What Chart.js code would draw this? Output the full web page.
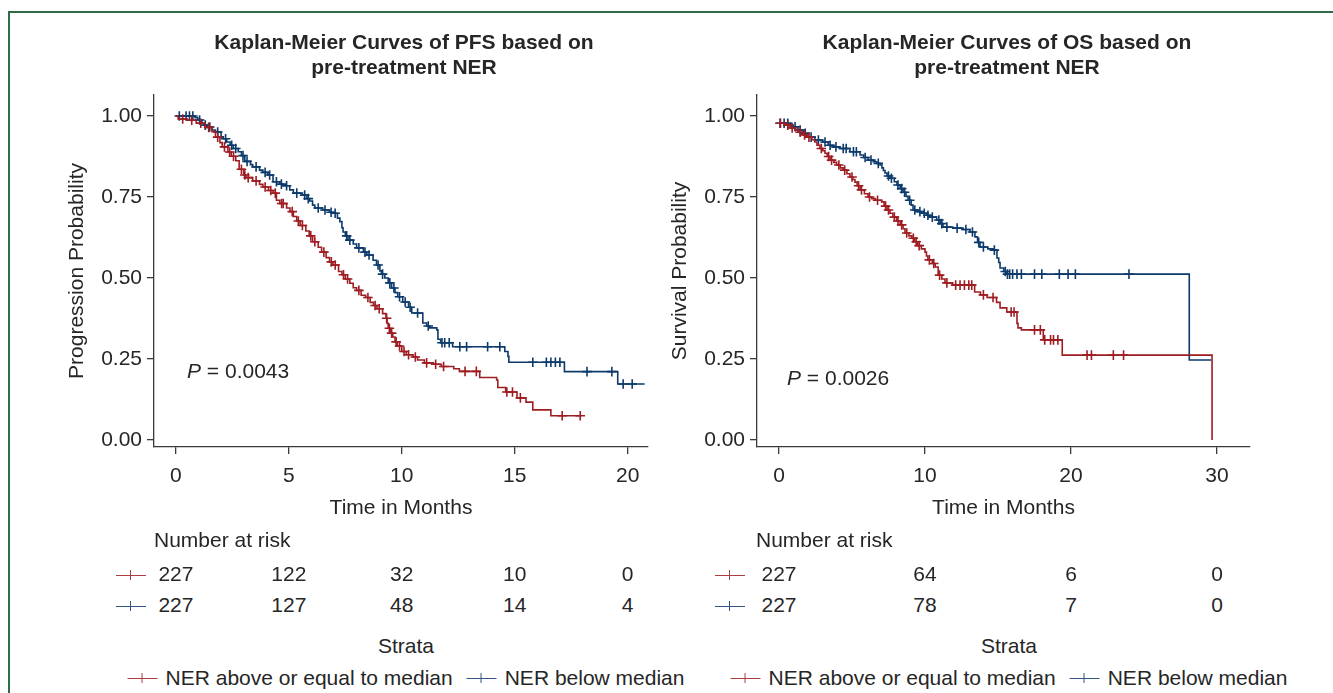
<!DOCTYPE html>
<html>
<head>
<meta charset="utf-8">
<script src="https://cdn.jsdelivr.net/npm/chart.js@4.4.1/dist/chart.umd.min.js"></script>
<style>
html,body{margin:0;padding:0;background:#fff;}
body{width:1333px;height:693px;position:relative;overflow:hidden;font-family:"Liberation Sans",Arial,sans-serif;color:#262626;}
.frame{position:absolute;left:8px;top:11px;width:1400px;height:800px;border-left:2px solid #2f6b47;border-top:2px solid #2f6b47;}
canvas{position:absolute;top:0;}
.t{position:absolute;font-size:21px;line-height:24px;white-space:nowrap;}
.c{transform:translateX(-50%);text-align:center;}
.b{font-weight:bold;}
.sym{position:relative;display:inline-block;width:30px;height:0;border-top:1.6px solid currentColor;vertical-align:middle;opacity:.85;}
.sym::after{content:'';position:absolute;left:14px;top:-5.8px;height:10px;border-left:1.6px solid currentColor;}
.leg{position:absolute;top:666px;transform:translateX(-50%);display:flex;align-items:center;font-size:21px;line-height:24px;white-space:nowrap;}
.leg .sym{margin-right:8px;}
.leg .gap{width:14px;}
</style>
</head>
<body>
<div class="frame"></div>
<canvas id="pfs" width="666" height="530" style="left:0"></canvas>
<canvas id="os" width="667" height="530" style="left:666px"></canvas>
<div id="txt"></div>
<script>
// strata
const strata = ['NER above or equal to median', 'NER below median'];
const colHigh = '#9e1d22', colLow = '#0c3a6b';

// y ticks shared by both panels
const yTicks = [0, 0.25, 0.5, 0.75, 1];
const pfsXTicks = [0, 5, 10, 15, 20];
const osXTicks = [0, 10, 20, 30];

// number at risk
const pfsRiskHigh = [227, 122, 32, 10, 0];
const pfsRiskLow  = [227, 127, 48, 14, 4];
const osRiskHigh  = [227, 64, 6, 0];
const osRiskLow   = [227, 78, 7, 0];

// KM steps: [time, survival, censored]
const pfsHigh = [[0,1,0],[0.1,0.991,0],[0.3,0.991,1],[0.5,0.987,0],[0.7,0.987,1],[0.9,0.978,0],[1.1,0.978,1],[1.3,0.965,0],[1.45,0.965,1],
  [1.6,0.952,0],[1.75,0.935,0],[1.85,0.935,1],[1.95,0.918,0],[2.05,0.905,0],[2.15,0.905,1],[2.3,0.889,0],[2.38,0.889,1],[2.45,0.876,0],[2.55,0.876,1],
  [2.65,0.862,0],[2.8,0.836,0],[2.9,0.836,1],[3.0,0.818,0],[3.05,0.818,1],[3.1,0.81,0],[3.2,0.81,1],[3.4,0.8,0],[3.55,0.8,1],[3.7,0.789,0],[3.85,0.781,0],
  [3.95,0.781,1],[4.1,0.77,0],[4.2,0.77,1],[4.3,0.762,0],[4.4,0.762,1],[4.45,0.74,0],[4.6,0.73,0],[4.68,0.73,1],[4.75,0.73,1],[4.9,0.716,0],[5.05,0.705,0],[5.15,0.705,1],
  [5.2,0.69,0],[5.35,0.676,0],[5.42,0.676,1],[5.5,0.662,0],[5.6,0.662,1],[5.75,0.645,0],[5.9,0.63,0],[5.97,0.63,1],[6.05,0.612,0],[6.15,0.612,1],[6.3,0.595,0],[6.45,0.58,0],
  [6.55,0.58,1],[6.65,0.563,0],[6.8,0.55,0],[6.88,0.55,1],[6.95,0.54,0],[7.05,0.54,1],[7.2,0.52,0],[7.35,0.51,0],[7.42,0.51,1],[7.5,0.497,0],[7.6,0.497,1],[7.7,0.484,0],
  [7.85,0.47,0],[8.0,0.462,0],[8.1,0.462,1],[8.2,0.447,0],[8.4,0.44,0],[8.5,0.44,1],[8.6,0.425,0],[8.75,0.415,0],[8.82,0.415,1],[8.9,0.405,0],[9.0,0.405,1],
  [9.15,0.39,0],[9.3,0.376,0],[9.33,0.376,1],[9.35,0.36,0],[9.4,0.345,0],[9.45,0.345,1],[9.5,0.33,0],[9.55,0.33,1],[9.6,0.318,0],[9.7,0.303,0],[9.75,0.303,1],[9.8,0.29,0],[9.9,0.29,1],
  [10.0,0.273,0],[10.1,0.273,1],[10.2,0.263,0],[10.3,0.263,1],[10.5,0.256,0],[10.6,0.256,1],[10.7,0.247,0],[11.0,0.238,0],[11.1,0.238,1],[11.4,0.234,0],
  [11.5,0.234,1],[11.75,0.227,0],[11.85,0.227,1],[12.3,0.22,0],[12.55,0.212,0],[12.8,0.212,1],[13.3,0.212,1],[13.45,0.193,0],[14.2,0.185,0],
  [14.25,0.162,0],[14.6,0.148,0],[14.65,0.148,1],[14.9,0.148,1],[15.1,0.13,0],[15.25,0.13,1],[15.5,0.117,0],[15.8,0.093,0],[16.6,0.075,0],
  [17.1,0.075,1],[17.9,0.075,1]];

const pfsLow = [[0,1,0],[0.15,1,1],[0.45,1,1],[0.6,1,1],[0.75,1,1],[0.85,0.995,0],[0.97,0.988,0],[1.05,0.988,1],[1.15,0.978,0],[1.25,0.972,0],[1.3,0.972,1],
  [1.37,0.966,0],[1.5,0.966,1],[1.6,0.957,0],[1.75,0.951,0],[1.85,0.951,1],[2.0,0.936,0],[2.1,0.93,0],[2.2,0.93,1],[2.25,0.92,0],[2.4,0.91,0],[2.47,0.91,1],
  [2.54,0.9,0],[2.65,0.9,1],[2.76,0.89,0],[2.9,0.878,0],[2.97,0.878,1],[3.05,0.86,0],[3.15,0.86,1],[3.3,0.85,0],[3.4,0.843,0],[3.55,0.843,1],[3.7,0.833,0],
  [3.85,0.826,0],[3.95,0.826,1],[4.07,0.818,0],[4.15,0.818,1],[4.3,0.797,0],[4.45,0.797,1],[4.6,0.79,0],[4.67,0.79,1],[4.75,0.785,0],[4.9,0.785,1],[5.04,0.772,0],
  [5.2,0.762,0],[5.35,0.762,1],[5.6,0.756,0],[5.7,0.756,1],[5.8,0.745,0],[5.86,0.745,1],[5.92,0.738,0],[6.05,0.725,0],[6.15,0.716,0],[6.3,0.716,1],
  [6.5,0.71,0],[6.6,0.71,1],[6.8,0.703,0],[6.87,0.703,1],[6.95,0.7,0],[7.05,0.7,1],[7.15,0.685,0],[7.26,0.674,0],[7.35,0.655,0],[7.4,0.642,0],[7.5,0.63,0],[7.56,0.63,1],
  [7.62,0.617,0],[7.7,0.617,1],[7.85,0.605,0],[8.0,0.593,0],[8.1,0.593,1],[8.3,0.58,0],[8.37,0.58,1],[8.45,0.571,0],[8.55,0.571,1],[8.73,0.555,0],
  [8.88,0.54,0],[8.95,0.54,1],[9.03,0.522,0],[9.1,0.512,0],[9.15,0.512,1],[9.25,0.5,0],[9.4,0.485,0],[9.47,0.485,1],[9.55,0.469,0],[9.65,0.469,1],[9.7,0.455,0],
  [9.82,0.442,0],[9.9,0.442,1],[10.04,0.426,0],[10.15,0.426,1],[10.3,0.41,0],[10.37,0.41,1],[10.44,0.392,0],[10.7,0.392,1],[10.93,0.361,0],[11.1,0.352,0],[11.17,0.352,1],
  [11.24,0.346,0],[11.55,0.34,0],[11.6,0.311,0],[11.72,0.3,0],[11.78,0.3,1],[11.9,0.3,1],[12.1,0.3,1],[12.25,0.288,0],[12.57,0.288,1],
  [12.87,0.288,1],[13.8,0.288,1],[14.34,0.288,1],[14.56,0.273,0],[14.7,0.258,0],[14.74,0.24,0],[15.8,0.24,1],[16.4,0.24,1],[16.6,0.24,1],
  [16.8,0.24,1],[17.0,0.24,1],[17.2,0.211,0],[18.2,0.211,1],[19.3,0.211,1],[19.56,0.173,0],[19.8,0.173,1],[20.2,0.173,1],[20.75,0.173,0]];

const osHigh = [[0,0.978,0],[0.1,0.978,1],[0.4,0.972,0],[0.6,0.972,1],[0.75,0.963,0],[0.9,0.963,1],[1.1,0.957,0],[1.3,0.95,0],[1.45,0.95,1],
  [1.65,0.942,0],[1.75,0.942,1],[1.9,0.935,0],[2.05,0.935,1],[2.25,0.927,0],[2.46,0.92,0],[2.6,0.91,0],[2.8,0.9,0],[2.9,0.9,1],[3.0,0.893,0],[3.15,0.885,0],
  [3.3,0.875,0],[3.4,0.875,1],[3.5,0.864,0],[3.6,0.864,1],[3.75,0.857,0],[3.95,0.849,0],[4.1,0.849,1],[4.2,0.84,0],[4.4,0.833,0],[4.5,0.833,1],
  [4.65,0.822,0],[4.86,0.812,0],[5.0,0.812,1],[5.05,0.804,0],[5.2,0.796,0],[5.35,0.785,0],[5.45,0.785,1],[5.55,0.772,0],[5.65,0.772,1],[5.85,0.76,0],
  [6.1,0.75,0],[6.2,0.75,1],[6.35,0.745,0],[6.6,0.74,0],[6.75,0.74,1],[7.03,0.735,0],[7.2,0.722,0],[7.3,0.722,1],[7.4,0.71,0],[7.5,0.71,1],[7.6,0.7,0],
  [7.8,0.688,0],[7.9,0.688,1],[8.05,0.676,0],[8.15,0.676,1],[8.3,0.664,0],[8.4,0.664,1],[8.5,0.652,0],[8.63,0.639,0],[8.75,0.639,1],[8.9,0.63,0],
  [9.1,0.623,0],[9.2,0.623,1],[9.3,0.612,0],[9.4,0.612,1],[9.5,0.6,0],[9.6,0.6,1],[9.75,0.59,0],[10.0,0.58,0],[10.1,0.568,0],[10.2,0.556,0],[10.3,0.556,1],
  [10.5,0.545,0],[10.6,0.545,1],[10.7,0.534,0],[10.9,0.509,0],[11.0,0.509,1],[11.15,0.497,0],[11.37,0.485,0],[11.5,0.485,1],[11.9,0.478,0],[12.1,0.478,1],
  [12.4,0.478,1],[12.7,0.478,1],[13.0,0.478,1],[13.2,0.478,1],[13.4,0.457,0],[13.8,0.448,0],[14.0,0.448,1],[14.25,0.44,0],[14.66,0.44,1],
  [14.9,0.425,0],[15.14,0.408,0],[15.6,0.395,0],[15.9,0.395,1],[16.1,0.395,1],[16.3,0.36,0],[16.37,0.346,0],[16.6,0.34,0],[17.5,0.34,1],
  [17.9,0.34,1],[18.1,0.309,0],[18.2,0.309,1],[18.6,0.309,1],[18.8,0.309,1],[19.1,0.309,1],[19.4,0.262,0],[21.1,0.262,1],[21.4,0.262,1],
  [22.9,0.262,1],[23.6,0.262,1],[29.66,0.262,0],[29.66,0,0]];

const osLow = [[0,0.978,0],[0.07,0.978,1],[0.35,0.978,1],[0.6,0.978,1],[0.8,0.972,0],[0.97,0.967,0],[1.1,0.967,1],[1.3,0.957,0],[1.45,0.957,1],
  [1.65,0.947,0],[1.8,0.947,1],[2.0,0.935,0],[2.2,0.935,1],[2.46,0.926,0],[2.7,0.926,1],[3.0,0.92,0],[3.15,0.92,1],[3.37,0.91,0],[3.5,0.91,1],
  [3.7,0.905,0],[3.9,0.905,1],[4.18,0.9,0],[4.4,0.9,1],[4.6,0.9,1],[4.86,0.89,0],[5.1,0.89,1],[5.3,0.89,1],[5.55,0.88,0],[5.8,0.872,0],
  [5.9,0.872,1],[6.1,0.864,0],[6.3,0.864,1],[6.45,0.859,0],[6.7,0.854,0],[6.8,0.854,1],[6.92,0.849,0],[7.05,0.84,0],[7.15,0.832,0],
  [7.26,0.824,0],[7.4,0.815,0],[7.5,0.815,1],[7.6,0.808,0],[7.7,0.808,1],[7.9,0.797,0],[8.08,0.787,0],[8.15,0.787,1],[8.3,0.776,0],[8.4,0.776,1],[8.5,0.765,0],
  [8.6,0.765,1],[8.7,0.752,0],[8.84,0.74,0],[8.95,0.74,1],[9.05,0.725,0],[9.18,0.71,0],[9.3,0.71,1],[9.5,0.705,0],[9.65,0.705,1],[9.79,0.7,0],[9.95,0.7,1],
  [10.1,0.694,0],[10.2,0.694,1],[10.34,0.688,0],[10.5,0.688,1],[10.8,0.679,0],[10.95,0.679,1],[11.05,0.668,0],[11.15,0.668,1],[11.23,0.657,0],[11.5,0.657,1],[11.9,0.654,0],
  [12.2,0.654,1],[12.6,0.65,0],[12.8,0.65,1],[13.08,0.642,0],[13.25,0.642,1],[13.42,0.627,0],[13.6,0.61,0],[13.68,0.61,1],[13.77,0.596,0],[14.0,0.596,1],
  [14.3,0.59,0],[14.66,0.586,0],[14.75,0.586,1],[14.93,0.562,0],[15.05,0.548,0],[15.14,0.531,0],[15.4,0.52,0],[15.5,0.52,1],[15.6,0.512,0],[15.65,0.512,1],
  [15.8,0.512,1],[16.0,0.512,1],[16.3,0.512,1],[16.6,0.512,1],[17.5,0.512,1],[18.0,0.512,1],[19.2,0.512,1],[19.8,0.512,1],[20.3,0.512,1],
  [23.97,0.512,1],[28.1,0.247,0],[29.6,0.247,0]];

const FONT = '"Liberation Sans", Arial, sans-serif';
const TXT = '#262626', AXIS = '#3a3a3a';
Chart.defaults.font.family = FONT;

function kmChart(id, o) {
  const sets = [[o.high, colHigh], [o.low, colLow]].map(([pts, col]) => ({
    data: pts.map(p => ({x: p[0], y: p[1], c: p[2]})),
    borderColor: col, borderWidth: 1.6, stepped: true, fill: false,
    pointStyle: 'cross', pointRadius: ctx => (ctx.raw && ctx.raw.c ? 4.8 : 0),
    pointBorderColor: col, pointBorderWidth: 1.6, pointHoverRadius: 0, pointHitRadius: 0
  }));
  return new Chart(document.getElementById(id), {
    type: 'line',
    data: { datasets: sets },
    options: {
      responsive: false, animation: false, devicePixelRatio: 1,
      layout: { padding: { left: 0, right: o.padRight, top: 95, bottom: 0 } },
      plugins: { legend: { display: false }, tooltip: { enabled: false } },
      scales: {
        x: {
          type: 'linear', min: o.xMin, max: o.xMax,
          afterBuildTicks: s => { s.ticks = o.xTicks.map(v => ({ value: v })); },
          afterFit: s => { s.height = 83; },
          border: { display: true, color: AXIS, width: 1.3 },
          grid: { drawOnChartArea: false, drawTicks: true, tickLength: 7, color: AXIS, lineWidth: 1.3 },
          ticks: { color: TXT, font: { size: 21 }, padding: 10, maxRotation: 0 },
          title: { display: true, text: 'Time in Months', color: TXT, font: { size: 21 }, padding: { top: 0, bottom: 9 } }
        },
        y: {
          min: -0.0216, max: 1.065,
          afterBuildTicks: s => { s.ticks = yTicks.map(v => ({ value: v })); },
          afterFit: s => { s.width = o.yWidth; },
          border: { display: true, color: AXIS, width: 1.3 },
          grid: { drawOnChartArea: false, drawTicks: true, tickLength: 7, color: AXIS, lineWidth: 1.3 },
          ticks: { color: TXT, font: { size: 21 }, padding: 5, callback: v => v.toFixed(2) },
          title: { display: true, text: o.yTitle, color: TXT, font: { size: 21 }, padding: { top: o.yTitlePad, bottom: 0 } }
        }
      }
    }
  });
}

const pfsChart = kmChart('pfs', { high: pfsHigh, low: pfsLow, xMin: -0.97, xMax: 20.9, xTicks: pfsXTicks,
  padRight: 18, yWidth: 154, yTitle: 'Progression Probability', yTitlePad: 64.4 });
const osChart = kmChart('os', { high: osHigh, low: osLow, xMin: -1.507, xMax: 32.26, xTicks: osXTicks,
  padRight: 83, yWidth: 91, yTitle: 'Survival Probability', yTitlePad: 2 });

// text around the plots
const box = document.getElementById('txt');
function put(html, x, yc, cls) {
  const d = document.createElement('div');
  d.className = 't ' + (cls || '');
  d.innerHTML = html;
  d.style.left = x + 'px';
  d.style.top = (yc - 12) + 'px';
  box.appendChild(d);
  return d;
}
function panel(chart, offX, t1, t2, titleX, pTxt, pX, pY, ticks, riskH, riskL, nrX, symX, legX) {
  put(t1, titleX, 42, 'c b');
  put(t2, titleX, 67, 'c b');
  put('<i>P</i> = ' + pTxt, pX, pY);
  put('Number at risk', nrX, 540);
  [[riskH, colHigh, 574], [riskL, colLow, 605]].forEach(([vals, col, y]) => {
    const s = put('<span class="sym"></span>', symX, y);
    s.firstChild.style.color = col;
    vals.forEach((v, i) => put(String(v), offX + chart.scales.x.getPixelForValue(ticks[i]), y, 'c'));
  });
  put('Strata', legX, 646, 'c');
  const l = document.createElement('div');
  l.className = 'leg';
  l.style.left = legX + 'px';
  l.innerHTML = '<span class="sym" style="color:' + colHigh + '"></span><span>' + strata[0] + '</span><span class="gap"></span>' +
    '<span class="sym" style="color:' + colLow + '"></span><span>' + strata[1] + '</span>';
  box.appendChild(l);
}
panel(pfsChart, 0, 'Kaplan-Meier Curves of PFS based on', 'pre-treatment NER', 404, '0.0043', 187, 371,
  pfsXTicks, pfsRiskHigh, pfsRiskLow, 154, 116, 406);
panel(osChart, 666, 'Kaplan-Meier Curves of OS based on', 'pre-treatment NER', 1007, '0.0026', 787, 378,
  osXTicks, osRiskHigh, osRiskLow, 756, 715, 1009);
</script>
</body>
</html>
